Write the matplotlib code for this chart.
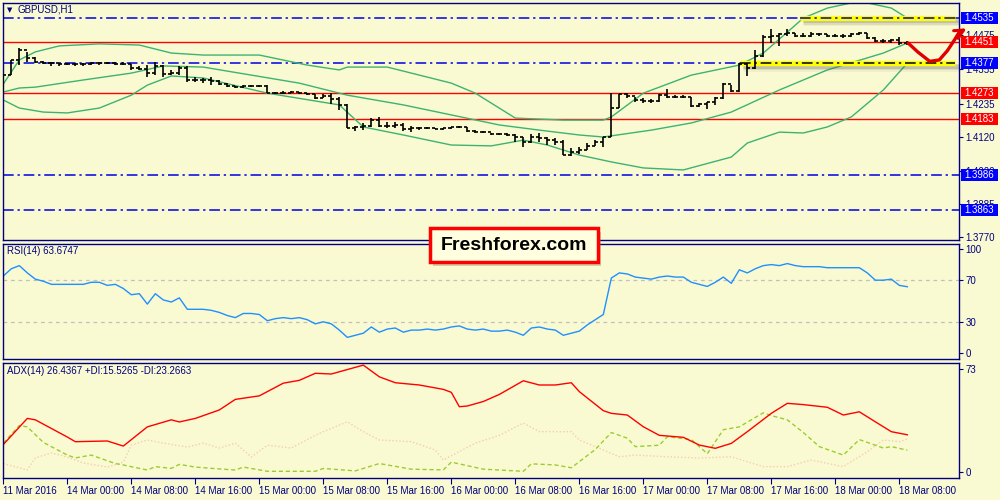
import matplotlib
matplotlib.use("Agg")
import matplotlib.pyplot as plt
from matplotlib.patches import Rectangle
from matplotlib.transforms import blended_transform_factory

plt.rcParams['font.family'] = ['Liberation Sans', 'DejaVu Sans']

BG = '#FAFAD2'
NAVY = '#000080'
BLUE = '#0000E0'
W, H = 1000, 500

# ---------------- data ----------------
time_labels = ["11 Mar 2016", "14 Mar 00:00", "14 Mar 08:00", "14 Mar 16:00", "15 Mar 00:00",
               "15 Mar 08:00", "15 Mar 16:00", "16 Mar 00:00", "16 Mar 08:00", "16 Mar 16:00",
               "17 Mar 00:00", "17 Mar 08:00", "17 Mar 16:00", "18 Mar 00:00", "18 Mar 08:00"]
time_label_bars = [0, 8, 16, 24, 32, 40, 48, 56, 64, 72, 80, 88, 96, 104, 112]

closes = [1.4335, 1.4388, 1.4423, 1.4395, 1.4381, 1.4377, 1.4377, 1.4374, 1.4374, 1.4374,
          1.4374, 1.4377, 1.4377, 1.4377, 1.4374, 1.4374, 1.4360, 1.4356, 1.4342, 1.4367,
          1.4339, 1.4342, 1.4360, 1.4318, 1.4318, 1.4318, 1.4314, 1.4304, 1.4297, 1.4293,
          1.4297, 1.4297, 1.4297, 1.4272, 1.4272, 1.4272, 1.4276, 1.4272, 1.4269, 1.4255,
          1.4262, 1.4251, 1.4231, 1.4150, 1.4154, 1.4157, 1.4178, 1.4157, 1.4157, 1.4161,
          1.4147, 1.4150, 1.4150, 1.4150, 1.4147, 1.4150, 1.4154, 1.4154, 1.4140, 1.4136,
          1.4136, 1.4129, 1.4129, 1.4126, 1.4119, 1.4101, 1.4119, 1.4115, 1.4108, 1.4101,
          1.4056, 1.4066, 1.4073, 1.4087, 1.4101, 1.4119, 1.4220, 1.4269, 1.4262, 1.4248,
          1.4245, 1.4245, 1.4265, 1.4258, 1.4258, 1.4258, 1.4227, 1.4234, 1.4241, 1.4255,
          1.4304, 1.4279, 1.4374, 1.4360, 1.4402, 1.4468, 1.4472, 1.4478, 1.4482, 1.4472,
          1.4472, 1.4478, 1.4478, 1.4472, 1.4472, 1.4472, 1.4478, 1.4482, 1.4465, 1.4454,
          1.4454, 1.4458, 1.4447, 1.4447]
opens = [1.4283, 1.4335, 1.4388, 1.4423, 1.4395, 1.4381, 1.4377, 1.4377, 1.4374, 1.4374,
         1.4374, 1.4374, 1.4377, 1.4377, 1.4377, 1.4374, 1.4374, 1.4360, 1.4356, 1.4342,
         1.4367, 1.4339, 1.4342, 1.4360, 1.4318, 1.4318, 1.4318, 1.4314, 1.4304, 1.4297,
         1.4293, 1.4297, 1.4297, 1.4297, 1.4272, 1.4272, 1.4272, 1.4276, 1.4272, 1.4269,
         1.4255, 1.4262, 1.4251, 1.4231, 1.4150, 1.4154, 1.4157, 1.4178, 1.4157, 1.4157,
         1.4161, 1.4147, 1.4150, 1.4150, 1.4150, 1.4147, 1.4150, 1.4154, 1.4154, 1.4140,
         1.4136, 1.4136, 1.4129, 1.4129, 1.4126, 1.4119, 1.4101, 1.4119, 1.4115, 1.4108,
         1.4101, 1.4056, 1.4066, 1.4073, 1.4087, 1.4101, 1.4119, 1.4220, 1.4269, 1.4262,
         1.4248, 1.4245, 1.4245, 1.4265, 1.4258, 1.4258, 1.4258, 1.4227, 1.4234, 1.4241,
         1.4255, 1.4304, 1.4279, 1.4374, 1.4360, 1.4402, 1.4468, 1.4472, 1.4478, 1.4482,
         1.4472, 1.4472, 1.4478, 1.4478, 1.4472, 1.4472, 1.4472, 1.4478, 1.4482, 1.4465,
         1.4454, 1.4454, 1.4458, 1.4447]
highs = [1.4335, 1.4388, 1.4430, 1.4416, 1.4398, 1.4384, 1.4381, 1.4377, 1.4377, 1.4377,
         1.4377, 1.4381, 1.4381, 1.4381, 1.4381, 1.4381, 1.4374, 1.4367, 1.4370, 1.4381,
         1.4370, 1.4353, 1.4367, 1.4367, 1.4328, 1.4325, 1.4328, 1.4318, 1.4307, 1.4297,
         1.4300, 1.4300, 1.4300, 1.4300, 1.4276, 1.4279, 1.4279, 1.4276, 1.4272, 1.4269,
         1.4269, 1.4272, 1.4258, 1.4234, 1.4157, 1.4168, 1.4185, 1.4189, 1.4171, 1.4171,
         1.4168, 1.4157, 1.4154, 1.4154, 1.4150, 1.4150, 1.4154, 1.4157, 1.4154, 1.4143,
         1.4140, 1.4133, 1.4133, 1.4133, 1.4129, 1.4119, 1.4129, 1.4133, 1.4119, 1.4115,
         1.4108, 1.4080, 1.4084, 1.4098, 1.4108, 1.4119, 1.4272, 1.4269, 1.4272, 1.4258,
         1.4255, 1.4251, 1.4269, 1.4286, 1.4265, 1.4265, 1.4258, 1.4238, 1.4241, 1.4258,
         1.4307, 1.4300, 1.4377, 1.4377, 1.4423, 1.4475, 1.4496, 1.4482, 1.4496, 1.4482,
         1.4482, 1.4485, 1.4482, 1.4478, 1.4478, 1.4478, 1.4482, 1.4485, 1.4482, 1.4468,
         1.4461, 1.4461, 1.4468, 1.4454]
lows = [1.4276, 1.4335, 1.4370, 1.4381, 1.4377, 1.4374, 1.4367, 1.4367, 1.4370, 1.4367,
        1.4367, 1.4370, 1.4370, 1.4374, 1.4370, 1.4370, 1.4353, 1.4353, 1.4328, 1.4335,
        1.4328, 1.4335, 1.4335, 1.4311, 1.4311, 1.4307, 1.4300, 1.4300, 1.4293, 1.4290,
        1.4290, 1.4293, 1.4293, 1.4272, 1.4269, 1.4269, 1.4272, 1.4269, 1.4265, 1.4251,
        1.4255, 1.4234, 1.4213, 1.4150, 1.4140, 1.4143, 1.4154, 1.4154, 1.4150, 1.4150,
        1.4140, 1.4136, 1.4143, 1.4147, 1.4147, 1.4143, 1.4147, 1.4150, 1.4136, 1.4133,
        1.4133, 1.4126, 1.4126, 1.4122, 1.4101, 1.4084, 1.4098, 1.4101, 1.4091, 1.4091,
        1.4056, 1.4053, 1.4060, 1.4073, 1.4087, 1.4084, 1.4119, 1.4220, 1.4255, 1.4241,
        1.4238, 1.4238, 1.4241, 1.4255, 1.4255, 1.4255, 1.4224, 1.4224, 1.4217, 1.4231,
        1.4251, 1.4276, 1.4276, 1.4332, 1.4356, 1.4398, 1.4447, 1.4437, 1.4472, 1.4468,
        1.4468, 1.4468, 1.4472, 1.4468, 1.4468, 1.4465, 1.4468, 1.4475, 1.4461, 1.4451,
        1.4447, 1.4447, 1.4440, 1.4440]

# Bollinger bands (20) read at selected bars
bb_up_bars = [0, 1, 2, 4, 7, 12, 17, 21, 25, 32, 38, 42, 43, 48, 52, 56, 59, 64, 70, 75, 76,
              80, 86, 92, 95, 98, 100, 103, 106, 108, 111, 113]
bb_up = [1.4304, 1.4346, 1.4388, 1.4416, 1.4437, 1.4444, 1.4440, 1.4412, 1.4405, 1.4405,
         1.4370, 1.4353, 1.4363, 1.4363, 1.4335, 1.4307, 1.4272, 1.4185, 1.4178, 1.4178,
         1.4189, 1.4272, 1.4335, 1.4370, 1.4412, 1.4485, 1.4534, 1.4569, 1.4587, 1.4587,
         1.4569, 1.4534]
bb_mid_bars = [0, 2, 4, 10, 16, 20, 25, 31, 37, 43, 50, 56, 62, 67, 72, 75, 81, 86, 91, 97,
               103, 110, 113]
bb_mid = [1.4276, 1.4290, 1.4293, 1.4318, 1.4342, 1.4367, 1.4363, 1.4335, 1.4307, 1.4265,
          1.4231, 1.4196, 1.4161, 1.4143, 1.4126, 1.4119, 1.4143, 1.4168, 1.4206, 1.4283,
          1.4353, 1.4412, 1.4447]
bb_low_bars = [0, 2, 5, 8, 12, 16, 18, 21, 25, 33, 42, 45, 50, 56, 61, 65, 68, 72, 76, 80,
               85, 91, 93, 97, 100, 103, 106, 110, 113]
bb_low = [1.4248, 1.4220, 1.4206, 1.4203, 1.4220, 1.4265, 1.4300, 1.4332, 1.4325, 1.4272,
          1.4231, 1.4154, 1.4126, 1.4091, 1.4088, 1.4108, 1.4091, 1.4056, 1.4032, 1.4011,
          1.4004, 1.4049, 1.4098, 1.4136, 1.4133, 1.4154, 1.4189, 1.4283, 1.4377]

rsi = [74, 81, 84, 77, 71, 69, 66, 66, 66, 66,
       66, 68, 68, 65, 66, 62, 56, 57, 47, 57,
       51, 49, 53, 42, 42, 42, 41, 39, 36, 34,
       38, 38, 37, 31, 33, 34, 33, 34, 32, 28,
       30, 28, 22, 15, 17, 19, 25, 20, 23, 24,
       20, 22, 22, 23, 22, 23, 25, 26, 23, 22,
       23, 21, 21, 22, 20, 17, 24, 25, 23, 22,
       17, 19, 21, 27, 32, 37, 72, 77, 76, 73,
       72, 71, 73, 74, 73, 73, 68, 66, 64, 68,
       73, 67, 80, 77, 81, 84, 85, 84, 86, 84,
       83, 83, 83, 82, 82, 82, 82, 82, 77, 70,
       70, 71, 65, 63.7]

adx_bars = [0, 3, 4, 8, 9, 13, 15, 18, 21, 22, 24, 27, 29, 32, 35, 37, 39, 41, 45, 47,
            49, 52, 55, 56, 57, 58, 60, 62, 65, 67, 69, 71, 72, 75, 76, 78, 80, 82, 85, 87,
            89, 91, 93, 96, 98, 100, 103, 105, 107, 109, 111, 113]
adx = [19.5, 38, 37, 24.8, 21.5, 22, 18.4, 32, 37, 35.5, 38, 44, 51.5, 54, 63, 65, 70, 69.5,
       75.8, 67.5, 63.3, 61.7, 58.6, 56.5, 46.3, 46.8, 50, 55, 64.7, 61.7, 61.7, 63.3, 57,
       43.5, 41.6, 40.4, 32.1, 26, 24.6, 19.1, 16.8, 20.3, 28.6, 41.6, 48.7, 47.8, 45.9,
       40.4, 42.7, 35.6, 28.6, 26.4]
pdi_bars = [0, 2, 3, 5, 6, 8, 9, 11, 12, 14, 15, 18, 19, 21, 22, 24, 26, 29, 30, 33, 37, 39,
            40, 44, 47, 51, 55, 56, 60, 65, 66, 69, 71, 74, 76, 78, 79, 82, 83, 86, 88, 90,
            92, 95, 96, 98, 100, 102, 105, 107, 110, 111, 113]
pdi = [20.5, 33, 32, 21, 18, 12, 10, 12, 10, 6, 5, 1.4, 3.8, 2.6, 5.4, 3.5, 2.6, 1.4, 3.5,
       0.5, 0.5, 0.5, 2.5, 0.8, 6, 2, 1.5, 7, 2, 0.5, 5.8, 5, 3, 16, 28, 24, 18, 19, 25, 23,
       13, 30, 32, 42, 40, 37, 28, 18, 12, 23, 17, 18, 15.5]
mdi_bars = [0, 3, 4, 6, 8, 10, 13, 15, 16, 18, 20, 23, 25, 27, 29, 31, 33, 36, 39, 40, 43,
            45, 47, 51, 54, 55, 59, 62, 65, 67, 71, 72, 75, 77, 79, 83, 87, 91, 95, 98, 101,
            105, 108, 110, 112, 113]
mdi = [6, 1.4, 10, 13.5, 10.6, 6.4, 3.5, 7, 19, 22.7, 20.5, 17.7, 20.5, 17, 20.5, 10.6, 19,
       17, 26, 28.6, 35.6, 28.6, 22.7, 21.5, 15.6, 8.5, 20.5, 26, 34.7, 28.6, 28.6, 22.7,
       15.6, 10.8, 12, 10.8, 9.9, 10.8, 3.8, 3.8, 8.5, 3.8, 14.4, 22.7, 21.5, 23.3]

level_prices = [1.4535, 1.4451, 1.4377, 1.4273, 1.4183, 1.3986, 1.3863]
level_kinds = ['blue', 'red', 'blue', 'red', 'red', 'blue', 'blue']
price_ticks = [1.4475, 1.4355, 1.4235, 1.4120, 1.4000, 1.3885, 1.3770]

# analyst drawings (bar, price)
yellow_zones = [(99.6, 1.4535), (92.1, 1.4377)]
arrow_bars = [113.1, 114.3, 115.8, 117.0, 118.0, 118.9, 119.6]
arrow_prices = [1.4447, 1.4416, 1.4383, 1.4388, 1.4420, 1.4458, 1.4490]

# ---------------- layout ----------------
def rect(x0, y0, x1, y1):
    return [x0 / W, 1 - y1 / H, (x1 - x0) / W, (y1 - y0) / H]

fig = plt.figure(figsize=(10, 5), dpi=100, facecolor=BG)
ax = fig.add_axes(rect(3, 3, 959, 240), facecolor=BG)
ax_r = fig.add_axes(rect(3, 244, 959, 359), facecolor=BG)
ax_a = fig.add_axes(rect(3, 363, 959, 478), facecolor=BG)

XL = (-0.04, 119.46)
for a in (ax, ax_r, ax_a):
    a.set_xlim(*XL)
    for s in a.spines.values():
        s.set_color(NAVY)
        s.set_linewidth(1.0)
    a.yaxis.tick_right()
    a.tick_params(axis='y', direction='out', length=3, width=0.8, color=NAVY,
                  labelsize=7, labelcolor=NAVY, pad=1.5)
    a.tick_params(axis='x', bottom=False, labelbottom=False)

PPX = 2865.0  # pixels per price unit
ax.set_ylim(1.4475 - 205 / PPX, 1.4475 + 32 / PPX)

# Bollinger bands
bb_col = '#3CB371'
ax.plot(bb_up_bars, bb_up, color=bb_col, lw=1.0, zorder=2)
ax.plot(bb_mid_bars, bb_mid, color=bb_col, lw=1.0, zorder=2)
ax.plot(bb_low_bars, bb_low, color=bb_col, lw=1.0, zorder=2)

# levels
dashdot = (0, (7, 2.5, 1.5, 2.5))
for p, k in zip(level_prices, level_kinds):
    if k == 'red':
        ax.axhline(p, color='#FF0000', lw=1.0, zorder=1.5)
    elif p == 1.4377:
        ax.plot([XL[0], 92.1], [p, p], color=BLUE, lw=1.1, ls=dashdot, zorder=1.5)
    else:
        ax.axhline(p, color=BLUE, lw=1.1, ls=dashdot, zorder=1.5)

# yellow zones with shadow
for b0, p in yellow_zones:
    for off, al in ((2.5, 0.22), (4, 0.14), (5.5, 0.07)):
        ax.plot([b0 + 0.3, 119.4], [p - off / PPX, p - off / PPX], color='#606060',
                alpha=al, lw=3.5, solid_capstyle='butt', zorder=2.5)
    ax.plot([b0, 119.0], [p, p], color='#FFFF00', lw=3.8, solid_capstyle='butt', zorder=3)
ax.plot([92.1, 119.0], [1.4377, 1.4377], color='black', lw=1.1, ls=dashdot, zorder=3.2)
ax.plot([99.6, 119.0], [1.4535, 1.4535], color=BLUE, lw=1.1, ls=dashdot, zorder=3.2)

# OHLC bars
xs = list(range(len(closes)))
ax.vlines(xs, lows, highs, color='black', lw=1.2, zorder=4)
ax.hlines(opens, [x - 0.38 for x in xs], xs, color='black', lw=1.2, zorder=4)
ax.hlines(closes, xs, [x + 0.38 for x in xs], color='black', lw=1.2, zorder=4)

# red arrow
ax.plot(arrow_bars, arrow_prices, color='#E00000', lw=2.4, solid_capstyle='round',
        zorder=6, clip_on=False)
ax.annotate('', xy=(120.7, 1.4503), xytext=(119.4, 1.4482),
            arrowprops=dict(arrowstyle='->', color='#E00000', lw=2.2, mutation_scale=16),
            annotation_clip=False, zorder=6)

# price axis
ax.set_yticks(price_ticks)
ax.set_yticklabels([f"{t:.4f}" for t in price_ticks])

tr = blended_transform_factory(ax.transAxes, ax.transData)
bh = 12 / PPX
for p, k in zip(level_prices, level_kinds):
    col = '#FF0000' if k == 'red' else '#0000FF'
    ax.add_patch(Rectangle((1.0016, p - bh / 2), 0.0387, bh, transform=tr, fc=col,
                           ec='none', clip_on=False, zorder=10))
    ax.text(1.0016 + 0.0387 / 2, p, f"{p:.4f}", transform=tr, ha='center', va='center',
            color='white', fontsize=7, zorder=11, clip_on=False)

# RSI
ax_r.set_ylim(-5.8, 104.8)
ax_r.axhline(70, color='#C0C0C0', lw=0.9, ls=(0, (3, 3)))
ax_r.axhline(30, color='#C0C0C0', lw=0.9, ls=(0, (3, 3)))
ax_r.plot(xs, rsi, color='#1E90FF', lw=1.0)
ax_r.set_yticks([0, 30, 70, 100])
ax_r.set_yticklabels(['0', '30', '70', '100'])

# ADX
ax_a.set_ylim(-4.25, 77.3)
ax_a.plot(mdi_bars, mdi, color='#F5CDB0', lw=1.0, ls=(0, (1, 1.5)))
ax_a.plot(pdi_bars, pdi, color='#9ACD32', lw=1.0, ls=(0, (3, 2)))
ax_a.plot(adx_bars, adx, color='#FF0000', lw=1.0)
ax_a.set_yticks([0, 73])
ax_a.set_yticklabels(['0', '73'])

ax_a.tick_params(axis='x', bottom=True, labelbottom=True, direction='out', length=4,
                 width=0.8, color=NAVY, labelsize=7, labelcolor=NAVY, pad=2)
ax_a.set_xticks(time_label_bars)
ax_a.set_xticklabels(time_labels)
for lab in ax_a.get_xticklabels():
    lab.set_ha('left')

# panel titles
fig.text(7 / W, 1 - 10 / H, '\u25BC', fontsize=5, color=NAVY, va='center',
         family='DejaVu Sans')
fig.text(18 / W, 1 - 10 / H, 'GBPUSD,H1', fontsize=7, color=NAVY, va='center')
fig.text(7 / W, 1 - 251 / H, 'RSI(14) 63.6747', fontsize=7, color=NAVY, va='center')
fig.text(7 / W, 1 - 371 / H, 'ADX(14) 26.4367 +DI:15.5265 -DI:23.2663', fontsize=7,
         color=NAVY, va='center')

# Freshforex badge
fig.patches.append(Rectangle((433 / W, 1 - 266 / H), 168 / W, 34 / H,
                             transform=fig.transFigure, fc='#808060', alpha=0.35,
                             ec='none', zorder=20))
fig.patches.append(Rectangle((430 / W, 1 - 262 / H), 168 / W, 34 / H,
                             transform=fig.transFigure, fc='#FFFFE0', ec='#FF0000',
                             lw=2.5, zorder=21))
fig.text(514 / W, 1 - 245 / H, 'Freshforex.com', fontsize=14, fontweight='bold',
         color='black', ha='center', va='center', zorder=22)

fig.savefig('out.png', dpi=100, facecolor=BG)
